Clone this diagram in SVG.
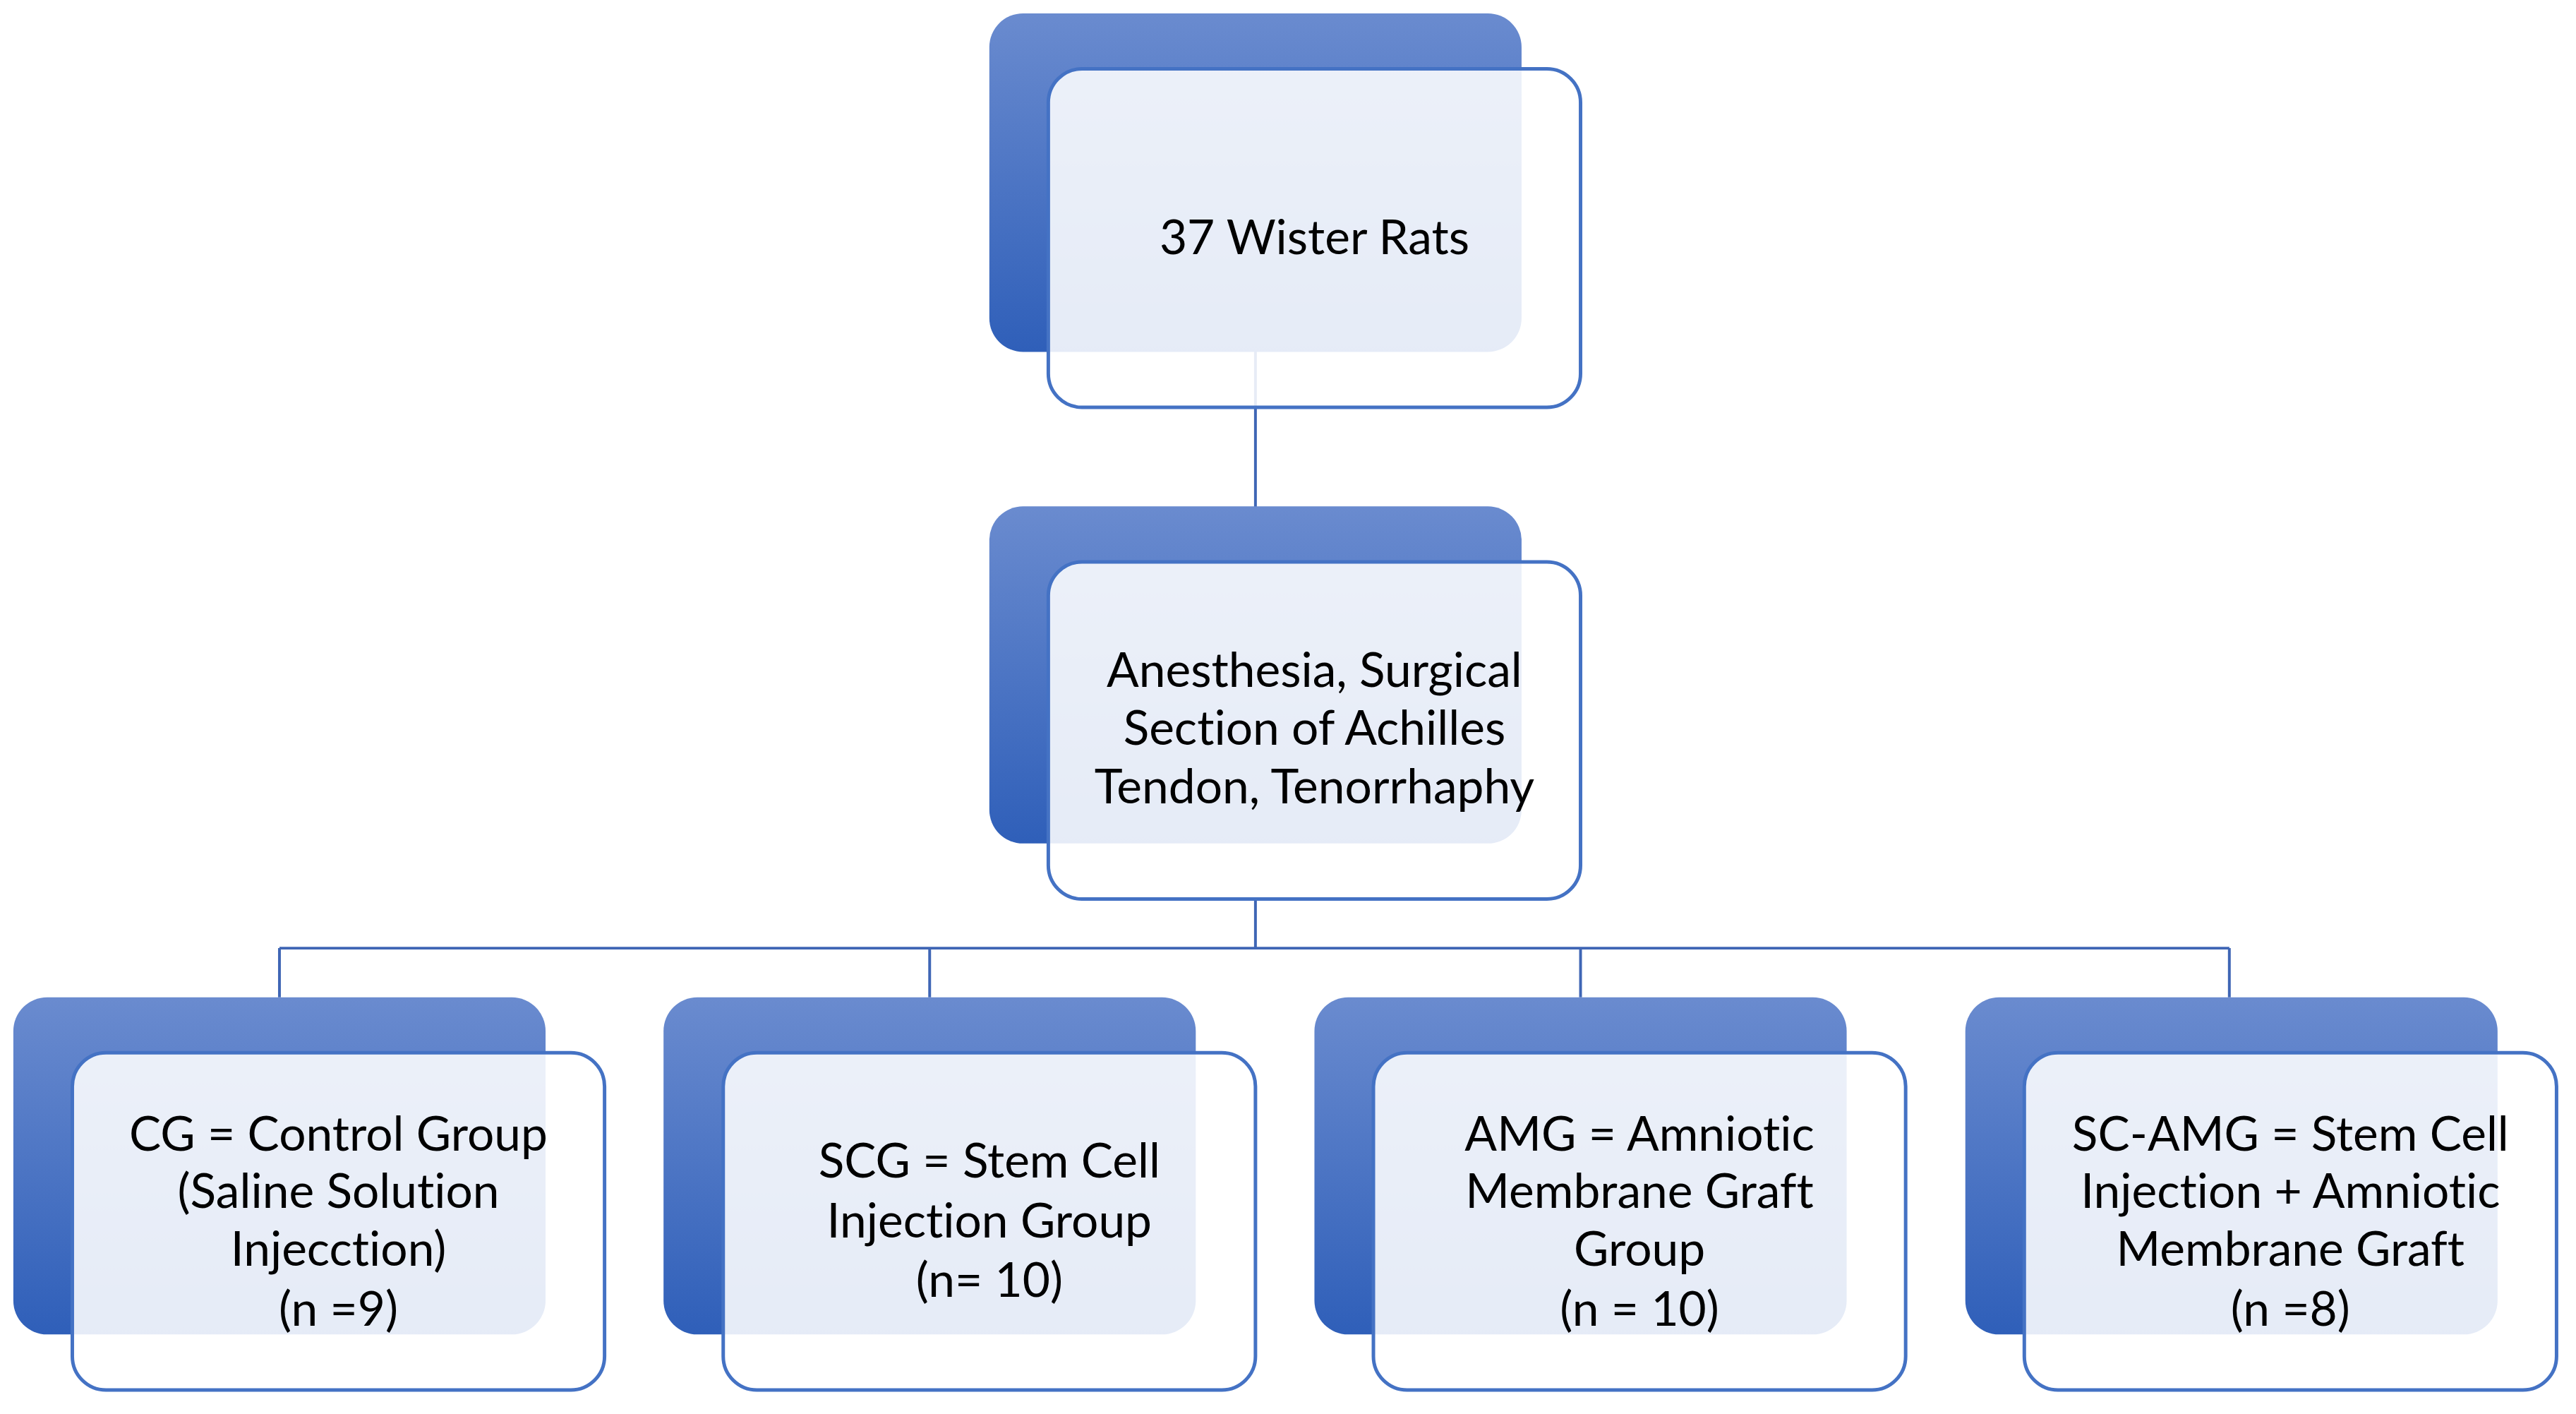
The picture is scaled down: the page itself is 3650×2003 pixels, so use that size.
<svg xmlns="http://www.w3.org/2000/svg" width="3650" height="2003" viewBox="0 0 3650 2003">
<defs>
<linearGradient id="g" x1="0" y1="0" x2="0" y2="1"><stop offset="0" stop-color="#6a8bcf"/><stop offset="1" stop-color="#2f5fb9"/></linearGradient>
<style>
.b{fill:url(#g)}
.f{fill:#fff;fill-opacity:0.88;stroke:#4472c4;stroke-width:5}
.c{fill:none;stroke:#3f66b5;stroke-width:4}
text{font-family:Lato,"Open Sans",sans-serif;font-size:68px;fill:#000;text-anchor:middle;font-variant-ligatures:none;font-feature-settings:"liga" 0}
</style>
</defs>
<rect width="3650" height="2003" fill="#fff"/>
<g transform="scale(0.9949)">
<g id="connectors">
<path class="c" d="M1788 500V800M1788 1280V1350M398 1350H3175M398 1350V1420M1324 1350V1420M2251 1350V1420M3175 1350V1420"/>
</g>
<g id="n1"><rect class="b" x="1409" y="19" width="758" height="482" rx="48"/><rect class="f" x="1493" y="98" width="758" height="482" rx="48"/>
<text x="1872" y="362">37 Wister Rats</text></g>
<g id="n2"><rect class="b" x="1409" y="721" width="758" height="480" rx="48"/><rect class="f" x="1493" y="800" width="758" height="480" rx="48"/>
<text x="1872" y="978">Anesthesia, Surgical</text><text x="1872" y="1060">Section of Achilles</text><text x="1872" y="1144">Tendon, Tenorrhaphy</text></g>
<g id="n3"><rect class="b" x="19" y="1420" width="758" height="480" rx="48"/><rect class="f" x="103" y="1499" width="758" height="480" rx="48"/>
<text x="482" y="1638">CG = Control Group</text><text x="482" y="1720">(Saline Solution</text><text x="482" y="1802">Injecction)</text><text x="482" y="1888">(n =9)</text></g>
<g id="n4"><rect class="b" x="945" y="1420" width="758" height="480" rx="48"/><rect class="f" x="1030" y="1499" width="758" height="480" rx="48"/>
<text x="1409" y="1677">SCG = Stem Cell</text><text x="1409" y="1762">Injection Group</text><text x="1409" y="1846">(n= 10)</text></g>
<g id="n5"><rect class="b" x="1872" y="1420" width="758" height="480" rx="48"/><rect class="f" x="1956" y="1499" width="758" height="480" rx="48"/>
<text x="2335" y="1638">AMG = Amniotic</text><text x="2335" y="1720">Membrane Graft</text><text x="2335" y="1802">Group</text><text x="2335" y="1888">(n = 10)</text></g>
<g id="n6"><rect class="b" x="2799" y="1420" width="758" height="480" rx="48"/><rect class="f" x="2883" y="1499" width="758" height="480" rx="48"/>
<text x="3262" y="1638">SC-AMG = Stem Cell</text><text x="3262" y="1720">Injection + Amniotic</text><text x="3262" y="1802">Membrane Graft</text><text x="3262" y="1888">(n =8)</text></g>
</g>
</svg>
